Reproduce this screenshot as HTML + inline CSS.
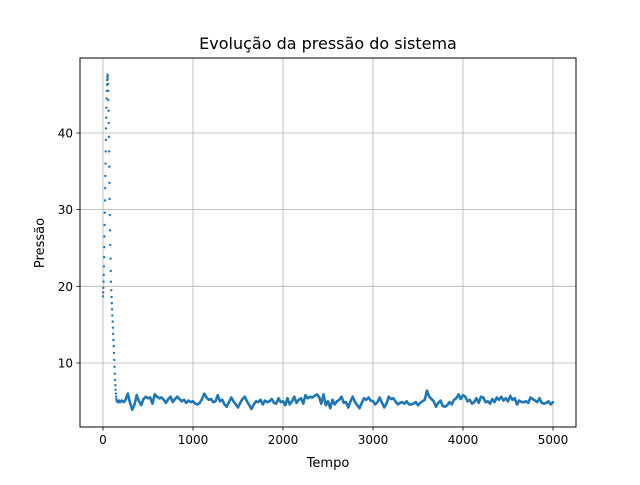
<!DOCTYPE html>
<html><head><meta charset="utf-8"><style>
body{margin:0;background:#fff;font-family:"Liberation Sans","DejaVu Sans",sans-serif}
text{font-family:"DejaVu Sans","Liberation Sans",sans-serif}
</style></head><body>
<svg id="chart" width="640" height="480" xmlns="http://www.w3.org/2000/svg">
<rect width="640" height="480" fill="#fff"/>
<text x="328" y="49" font-size="16" text-anchor="middle">Evolução da pressão do sistema</text>
<g id="grid"></g>
<g id="series"></g>
<rect x="80" y="58" width="496" height="369" fill="none" stroke="#000" stroke-width="1"/>
<g id="ticks"></g>
<text x="328" y="467" font-size="13" text-anchor="middle">Tempo</text>
<text x="44" y="243" font-size="13" text-anchor="middle" transform="rotate(-90 44 243)">Pressão</text>
</svg>
<script>
const xTicks=[0,1000,2000,3000,4000,5000];
const yTicks=[10,20,30,40];
const earlyT=[0,2,4,6,8,10,12,14,16,18,20,22,24,26,28,30,32,34,36,38,40,42,44,46,48,50,52,54,56,58,60,62,64,66,68,70,72,74,76,78,80,83,86,89,92,95,98,101,104,107,110,113,116,119,122,125,128,131,134,137,140,143,146,149,152,155,160,165,170,175,180,190,200,210,220,230,240];
const earlyP=[18.7,19.2,19.8,20.6,21.5,22.6,23.8,25.1,26.5,28,29.6,31.2,32.8,34.4,36,37.6,39.1,40.6,42,43.3,44.5,45.5,46.3,46.9,47.3,47.6,47.5,47.1,46.4,45.5,44.3,42.9,41.3,39.5,37.6,35.6,33.5,31.4,29.3,27.3,25.4,23.6,22,20.6,19.5,18.6,17.8,17,16.2,15.4,14.6,13.8,13,12.2,11.3,10.4,9.5,8.6,7.8,7.1,6.5,6.0,5.6,5.3,5.1,5.0,5.0,5.0,4.9,5.0,5.1,4.9,5.0,5.1,5.0,4.9,5.0];
const lateStart=250, lateStep=25;
const lateP=[5.2,6.0,4.8,3.9,4.6,5.8,5.0,4.5,5.3,5.6,5.4,5.5,4.7,5.9,5.6,5.4,5.5,5.2,4.8,5.3,5.6,4.9,5.3,5.6,5.3,5.0,5.2,4.8,5.1,4.9,5.0,
4.7,4.6,4.8,5.3,6.0,5.5,5.2,5.3,4.9,5.0,5.8,5.0,5.2,4.6,4.3,4.9,5.5,5.0,4.6,4.2,4.8,5.3,5.6,5.0,4.5,4.0,4.6,5.0,4.9,5.2,4.6,5.1,4.9,5.0,5.3,4.8,4.7,5.4,4.9,5.0,
4.5,5.4,4.6,5.0,5.6,4.8,5.2,5.4,4.7,5.8,5.4,5.6,5.5,5.7,5.9,5.6,4.7,5.9,4.5,5.0,4.1,5.2,4.6,5.0,5.2,5.6,4.8,4.9,4.2,5.0,5.6,4.9,4.5,4.1,4.8,5.4,5.2,5.5,5.1,5.0,
4.6,4.9,5.5,4.8,4.2,4.7,5.6,5.3,5.4,5.0,4.6,4.8,4.9,4.7,5.0,4.6,4.6,4.7,4.9,4.5,4.8,5.0,5.2,6.4,5.6,5.3,5.0,4.3,4.8,5.1,4.4,4.3,4.5,4.9,4.6,5.2,5.4,5.9,5.3,5.8,
5.6,5.0,5.2,4.7,4.9,5.4,4.8,5.6,5.5,4.9,5.0,4.7,5.3,4.9,5.5,5.2,5.6,5.1,5.4,5.0,5.7,5.2,5.4,4.6,5.1,4.9,4.9,5.0,4.8,5.5,5.3,5.1,4.9,5.4,4.8,4.7,4.8,5.0,4.6,4.9];

const NS="http://www.w3.org/2000/svg";
const X=t=>103+t*0.09;
const Y=p=>439.67-p*7.667;
const grid=document.getElementById('grid'),ticks=document.getElementById('ticks'),series=document.getElementById('series');
function mk(tag,attrs,parent){const e=document.createElementNS(NS,tag);for(const k in attrs)e.setAttribute(k,attrs[k]);parent.appendChild(e);return e;}
xTicks.forEach(v=>{
  const x=X(v);
  const g=mk('line',{x1:x,x2:x,y1:58,y2:427,stroke:'#b0b0b0','stroke-width':0.8},grid);
  
  
  const t=mk('line',{x1:x,x2:x,y1:427,y2:430.5,stroke:'#000','stroke-width':0.8},ticks);
  
  
  const l=mk('text',{x:x,y:444,'font-size':12,'text-anchor':'middle'},ticks);
  l.textContent=v;
  
  
});
yTicks.forEach(v=>{
  const y=Y(v);
  const g=mk('line',{x1:80,x2:576,y1:y,y2:y,stroke:'#b0b0b0','stroke-width':0.8},grid);
  
  
  const t=mk('line',{x1:76.5,x2:80,y1:y,y2:y,stroke:'#000','stroke-width':0.8},ticks);
  
  
  const l=mk('text',{x:73,y:y+4.5,'font-size':12,'text-anchor':'end'},ticks);
  l.textContent=v;
  
  
});
const T=[],P=[];
earlyT.forEach((t,i)=>{T.push(t);P.push(earlyP[i]);});
lateP.forEach((p,i)=>{T.push(lateStart+i*lateStep);P.push(p);});
let d='';
T.forEach((t,i)=>{if(t>=150)d+=(d?'L':'M')+X(t).toFixed(2)+' '+Y(P[i]).toFixed(2);});
const pl=mk('path',{d:d,fill:'none',stroke:'#1f77b4','stroke-width':2.6,'stroke-linejoin':'round'},series);


T.forEach((t,i)=>{
  const c=mk('circle',{cx:X(t),cy:Y(P[i]),r:1.2,fill:'#1f77b4'},series);
  
  
});
</script>
</body></html>
